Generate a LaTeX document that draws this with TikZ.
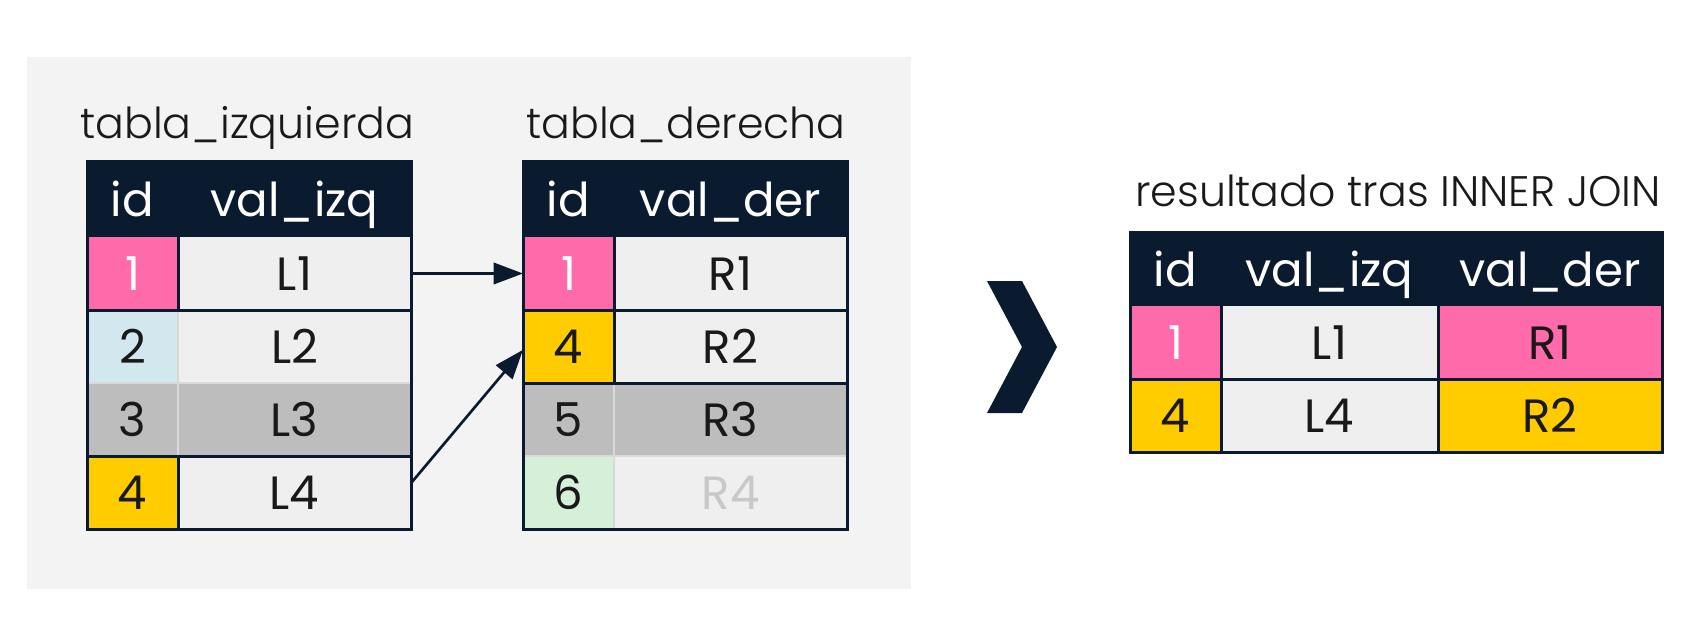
\documentclass[tikz,border=0pt]{standalone}
\usepackage{fontspec}
\setmainfont{Poppins}
\newfontfamily\ligera{Poppins Light}
\usetikzlibrary{arrows.meta}

\definecolor{navy}{HTML}{0B1B2F}
\definecolor{rosa}{HTML}{FF6AAA}
\definecolor{amarillo}{HTML}{FFCC00}
\definecolor{celeste}{HTML}{D3E7EF}
\definecolor{gris}{HTML}{BDBDBD}
\definecolor{verde}{HTML}{D5EFD9}
\definecolor{celda}{HTML}{EFEFEF}
\definecolor{panel}{HTML}{F3F3F3}
\definecolor{tenue}{HTML}{C8C8C8}
\definecolor{linea}{HTML}{D9D9D9}

\begin{document}
\begin{tikzpicture}[x=0.75pt,y=0.75pt,yscale=-1,xscale=1,
    cel/.style={rectangle, inner sep=0pt, outer sep=0pt, text=black!90,
      font=\fontsize{35}{40}\selectfont, text height=26pt, text depth=0pt,
      minimum height=54.75pt},
    cab/.style={cel, fill=navy, text=white, minimum height=56.25pt},
    colid/.style={minimum width=68.25pt},
    colval/.style={minimum width=174.75pt},
    titulo/.style={anchor=base west, inner sep=0pt, text=black!90,
      font=\ligera\fontsize{32}{38}\selectfont},
    borde/.style={draw=navy, line width=2.25pt, line join=miter},
    sep/.style={draw=linea, line width=1.5pt},
    flecha/.style={draw=navy, line width=2pt, -{Triangle[length=22pt,width=16pt]}}]
\useasboundingbox (0,0) rectangle (1707,624);
\fill[panel] (27,57) rectangle (911,589);

% tabla izquierda
\node[titulo] (tizq) at (80,139) {tabla\_izquierda};
\node[cab, colid] (izqid0) at (132.5,199.5) {id};
\node[cab, colval] (izqval0) at (294.5,199.5) {val\_izq};
\node[cel, colid, fill=rosa, text=white] (izqid1) at (132.5,273.5) {1};
\node[cel, colval, fill=celda] (izqval1) at (294.5,273.5) {L1};
\node[cel, colid, fill=celeste] (izqid2) at (132.5,346.5) {2};
\node[cel, colval, fill=celda] (izqval2) at (294.5,346.5) {L2};
\node[cel, colid, fill=gris] (izqid3) at (132.5,419.5) {3};
\node[cel, colval, fill=gris] (izqval3) at (294.5,419.5) {L3};
\node[cel, colid, fill=amarillo] (izqid4) at (132.5,492.5) {4};
\node[cel, colval, fill=celda] (izqval4) at (294.5,492.5) {L4};
\draw[sep] (izqid2.south west) -- (izqval2.south east);
\draw[sep] (izqid2.north east) -- (izqid3.south east);
\draw[borde] (izqid1.south west) -- (izqval1.south east);
\draw[borde] (izqid3.south west) -- (izqval3.south east);
\draw[borde] (izqid1.north east) -- (izqid1.south east);
\draw[borde] (izqid4.north east) -- (izqid4.south east);
\draw[borde] (izqid0.north west) rectangle (izqval4.south east);

% tabla derecha
\node[titulo] (tder) at (526,139) {tabla\_derecha};
\node[cab, colid] (derid0) at (568.5,199.5) {id};
\node[cab, colval] (derval0) at (730.5,199.5) {val\_der};
\node[cel, colid, fill=rosa, text=white] (derid1) at (568.5,273.5) {1};
\node[cel, colval, fill=celda] (derval1) at (730.5,273.5) {R1};
\node[cel, colid, fill=amarillo] (derid2) at (568.5,346.5) {4};
\node[cel, colval, fill=celda] (derval2) at (730.5,346.5) {R2};
\node[cel, colid, fill=gris] (derid3) at (568.5,419.5) {5};
\node[cel, colval, fill=gris] (derval3) at (730.5,419.5) {R3};
\node[cel, colid, fill=verde] (derid4) at (568.5,492.5) {6};
\node[cel, colval, fill=celda, text=tenue] (derval4) at (730.5,492.5) {R4};
\draw[sep] (derid3.south west) -- (derval3.south east);
\draw[sep] (derid3.north east) -- (derid4.south east);
\draw[borde] (derid1.south west) -- (derval1.south east);
\draw[borde] (derid2.south west) -- (derval2.south east);
\draw[borde] (derid1.north east) -- (derid2.south east);
\draw[borde] (derid0.north west) rectangle (derval4.south east);

% coincidencias
\draw[flecha] (izqval1.east) -- (derid1.west);
\draw[flecha] ([yshift=-7pt]izqval4.east) -- ([yshift=2.5pt]derid2.west);

% paso al resultado
\fill[navy] (987,281) -- (1022,281) -- (1057,347) -- (1022,413) -- (987,413) -- (1022,347) -- cycle;

% resultado
\node[titulo] (tres) at (1135,207) {resultado tras INNER JOIN};
\node[cab, colid, minimum height=54.75pt] (resid0) at (1175.5,269.5) {id};
\node[cab, minimum width=162.75pt, minimum height=54.75pt] (resizq0) at (1329.5,269.5) {val\_izq};
\node[cab, minimum width=168pt, minimum height=54.75pt] (resder0) at (1550,269.5) {val\_der};
\node[cel, colid, fill=rosa, text=white] (resid1) at (1175.5,342.5) {1};
\node[cel, minimum width=162.75pt, fill=celda] (resizq1) at (1329.5,342.5) {L1};
\node[cel, minimum width=168pt, fill=rosa] (resder1) at (1550,342.5) {R1};
\node[cel, colid, fill=amarillo] (resid2) at (1175.5,415.5) {4};
\node[cel, minimum width=162.75pt, fill=celda] (resizq2) at (1329.5,415.5) {L4};
\node[cel, minimum width=168pt, fill=amarillo] (resder2) at (1550,415.5) {R2};
\draw[borde] (resid1.south west) -- (resder1.south east);
\draw[borde] (resid1.north east) -- (resid2.south east);
\draw[borde] (resizq1.north east) -- (resizq2.south east);
\draw[borde] (resid0.north west) rectangle (resder2.south east);
\end{tikzpicture}
\end{document}
